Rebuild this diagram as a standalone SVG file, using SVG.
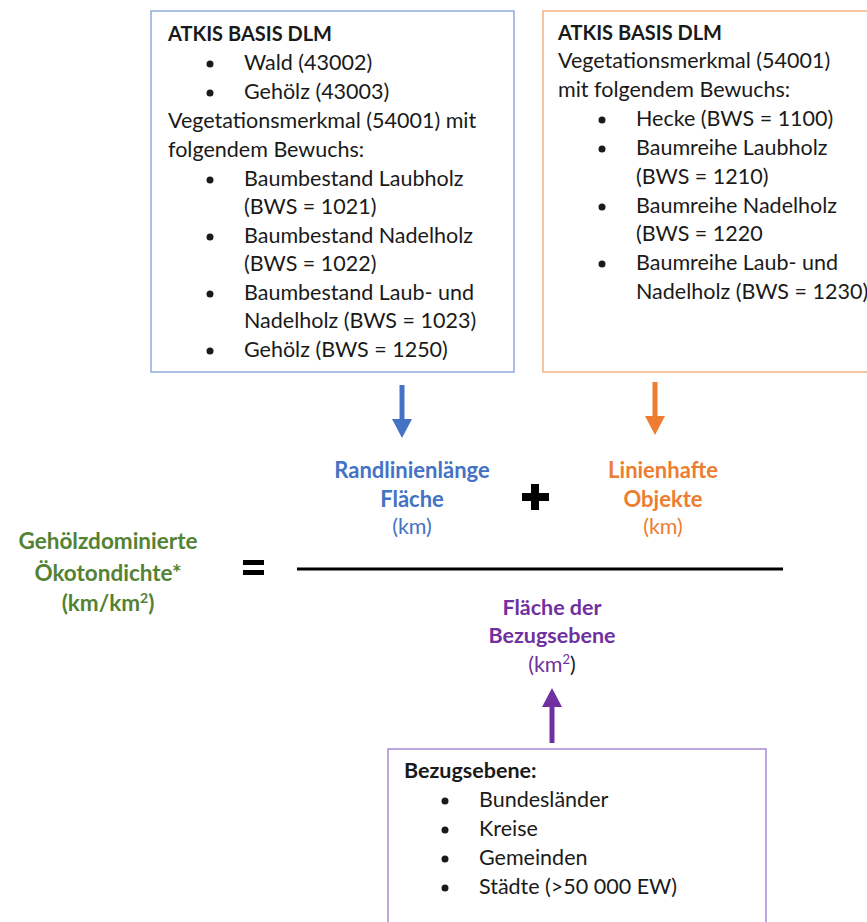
<svg xmlns="http://www.w3.org/2000/svg" width="867" height="922" viewBox="0 0 867 922">
<defs>
<style>
text{font-family:Lato,"Noto Sans",sans-serif;font-size:21.5px;fill:#1a1a1a}
.t{font-size:20px;font-weight:bold}
.b{font-weight:bold}
.c{text-anchor:middle}
.m{font-size:22px}
.blue{fill:#4472C4}
.orange{fill:#ED7D31}
.green{fill:#548235;font-size:22.5px}
.purple{fill:#7030A0}
.box{fill:#fff;stroke-width:1.5}
.dot{fill:#1a1a1a}
</style>
</defs>
<rect width="867" height="922" fill="#fff"/>

<g id="box-blue">
<rect class="box" x="151" y="11" width="363" height="361" stroke="#8FAADC"/>
<text class="t" x="168" y="41">ATKIS BASIS DLM</text>
<circle class="dot" cx="210" cy="64" r="3.5"/><text x="244" y="70">Wald (43002)</text>
<circle class="dot" cx="210" cy="93" r="3.5"/><text x="244" y="99">Gehölz (43003)</text>
<text x="168" y="128">Vegetationsmerkmal (54001) mit</text>
<text x="168" y="157">folgendem Bewuchs:</text>
<circle class="dot" cx="210" cy="180" r="3.5"/><text x="244" y="186">Baumbestand Laubholz</text>
<text x="244" y="214">(BWS = 1021)</text>
<circle class="dot" cx="210" cy="237" r="3.5"/><text x="244" y="243">Baumbestand Nadelholz</text>
<text x="244" y="271">(BWS = 1022)</text>
<circle class="dot" cx="210" cy="294" r="3.5"/><text x="244" y="300">Baumbestand Laub- und</text>
<text x="244" y="328">Nadelholz (BWS = 1023)</text>
<circle class="dot" cx="210" cy="351" r="3.5"/><text x="244" y="357">Gehölz (BWS = 1250)</text>
</g>

<g id="box-orange">
<rect class="box" x="543" y="11" width="340" height="361" stroke="#F4B183"/>
<text class="t" x="558" y="40">ATKIS BASIS DLM</text>
<text x="558" y="68">Vegetationsmerkmal (54001)</text>
<text x="558" y="97">mit folgendem Bewuchs:</text>
<circle class="dot" cx="602" cy="120" r="3.5"/><text x="636" y="126">Hecke (BWS = 1100)</text>
<circle class="dot" cx="602" cy="149" r="3.5"/><text x="636" y="155">Baumreihe Laubholz</text>
<text x="636" y="184">(BWS = 1210)</text>
<circle class="dot" cx="602" cy="207" r="3.5"/><text x="636" y="213">Baumreihe Nadelholz</text>
<text x="636" y="241">(BWS = 1220</text>
<circle class="dot" cx="602" cy="264" r="3.5"/><text x="636" y="270">Baumreihe Laub- und</text>
<text x="636" y="299">Nadelholz (BWS = 1230)</text>
</g>

<g id="box-purple">
<rect class="box" x="388" y="749" width="378" height="190" stroke="#A68BD3"/>
<text class="b" x="404" y="778">Bezugsebene:</text>
<circle class="dot" cx="445" cy="801" r="3.5"/><text x="479" y="807">Bundesländer</text>
<circle class="dot" cx="445" cy="830" r="3.5"/><text x="479" y="836">Kreise</text>
<circle class="dot" cx="445" cy="859" r="3.5"/><text x="479" y="865">Gemeinden</text>
<circle class="dot" cx="445" cy="888" r="3.5"/><text x="479" y="894">Städte (&gt;50 000 EW)</text>
</g>

<g id="term-randlinie">
<text class="b c m blue" x="412" y="478">Randlinienlänge</text>
<text class="b c m blue" x="412" y="507">Fläche</text>
<text class="c blue" x="412" y="534">(km)</text>
</g>

<g id="term-linienhaft">
<text class="b c m orange" x="663" y="478">Linienhafte</text>
<text class="b c m orange" x="663" y="507">Objekte</text>
<text class="c orange" x="663" y="534">(km)</text>
</g>

<g id="term-flaeche">
<text class="b c purple" x="552" y="615">Fläche der</text>
<text class="b c purple" x="552" y="643">Bezugsebene</text>
<text class="c" x="552" y="672"><tspan class="purple">(km</tspan><tspan class="purple" font-size="13" dy="-8">2</tspan><tspan dy="8">)</tspan></text>
</g>

<g id="result">
<text class="b c green" x="108" y="549">Gehölzdominierte</text>
<text class="b c green" x="108" y="581">Ökotondichte*</text>
<text class="b c green" x="108" y="611">(km/km<tspan font-size="14" dy="-8">2</tspan><tspan dy="8">)</tspan></text>
</g>

<g id="operators">
<rect x="522" y="493" width="27" height="8" fill="#000"/>
<rect x="531" y="484" width="8" height="26" fill="#000"/>
<rect x="243" y="560" width="21" height="5" fill="#000"/>
<rect x="243" y="570" width="21" height="5" fill="#000"/>
<rect x="297" y="567.5" width="486" height="3" fill="#000"/>
</g>

<g id="connectors">
<line x1="402" y1="385" x2="402" y2="421" stroke="#4472C4" stroke-width="5"/>
<polygon points="392,419 412,419 402,438" fill="#4472C4"/>
<line x1="655" y1="382" x2="655" y2="418" stroke="#ED7D31" stroke-width="5"/>
<polygon points="645,416 665,416 655,435" fill="#ED7D31"/>
<line x1="552" y1="743" x2="552" y2="704" stroke="#7030A0" stroke-width="5"/>
<polygon points="542,707 562,707 552,688" fill="#7030A0"/>
</g>
</svg>
